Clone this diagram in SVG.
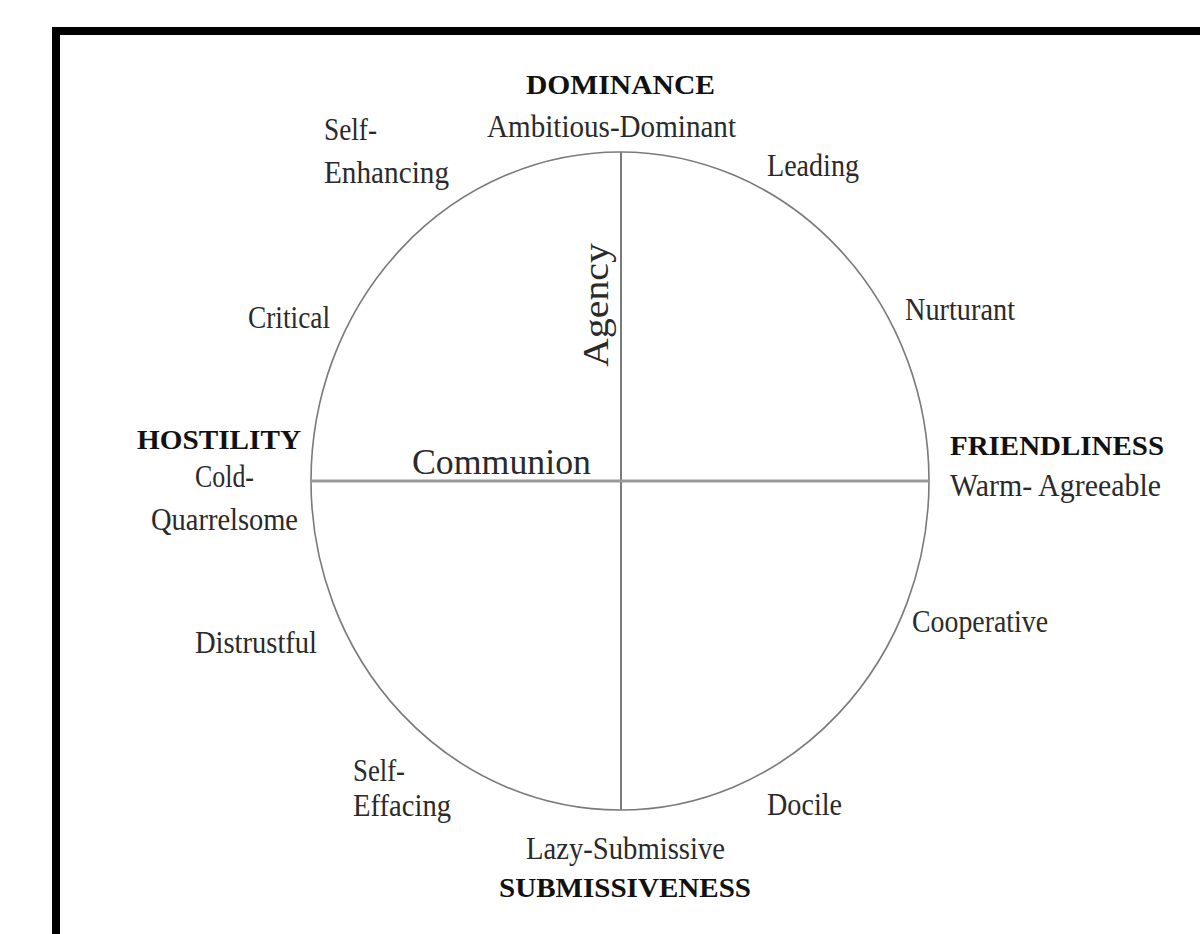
<svg xmlns="http://www.w3.org/2000/svg" width="1200" height="934" viewBox="0 0 1200 934">
  <style>
    .lbl { font-family: "Liberation Serif", "Times New Roman", serif; font-size: 32px; fill: #2a2a2a; }
    .pole { font-family: "Liberation Serif", "Times New Roman", serif; font-size: 28px; font-weight: bold; fill: #111; }
    .axis-name { font-family: "Liberation Serif", "Times New Roman", serif; font-size: 36px; fill: #2a2a2a; }
    .ring { fill: none; stroke: #7a7a7a; stroke-width: 1.6; }
    .axis { stroke: #7a7a7a; stroke-width: 2; }
    .axis-h { stroke: #999; stroke-width: 3; }
  </style>

  <!-- page and frame -->
  <rect x="0" y="0" width="1200" height="934" fill="#fff"/>
  <rect id="frame" x="56" y="31" width="1200" height="1000" fill="#fff" stroke="#000" stroke-width="8"/>

  <!-- interpersonal circle -->
  <g id="circumplex">
    <ellipse class="ring" cx="620" cy="481" rx="309" ry="329"/>
  </g>

  <!-- axes -->
  <g id="connectors">
    <line class="axis" x1="621" y1="152" x2="621" y2="810"/>
    <line class="axis-h" x1="311" y1="481" x2="929" y2="481"/>
  </g>

  <!-- axis names -->
  <g id="agency">
    <text class="axis-name" transform="translate(608,367) rotate(-90)" textLength="124" lengthAdjust="spacingAndGlyphs">Agency</text>
  </g>
  <g id="communion">
    <text class="axis-name" x="412" y="474" textLength="179" lengthAdjust="spacingAndGlyphs">Communion</text>
  </g>

  <!-- poles -->
  <g id="dominance">
    <text class="pole" x="526" y="94" textLength="189" lengthAdjust="spacingAndGlyphs">DOMINANCE</text>
    <text class="lbl" x="487" y="137" textLength="249" lengthAdjust="spacingAndGlyphs">Ambitious-Dominant</text>
  </g>
  <g id="hostility">
    <text class="pole" x="137" y="449" textLength="164" lengthAdjust="spacingAndGlyphs">HOSTILITY</text>
    <text class="lbl" x="195" y="487" textLength="59" lengthAdjust="spacingAndGlyphs">Cold-</text>
    <text class="lbl" x="151" y="530" textLength="147" lengthAdjust="spacingAndGlyphs">Quarrelsome</text>
  </g>
  <g id="friendliness">
    <text class="pole" x="950" y="455" textLength="214" lengthAdjust="spacingAndGlyphs">FRIENDLINESS</text>
    <text class="lbl" x="950" y="496" textLength="211" lengthAdjust="spacingAndGlyphs">Warm- Agreeable</text>
  </g>
  <g id="submissiveness">
    <text class="lbl" x="526" y="859" textLength="199" lengthAdjust="spacingAndGlyphs">Lazy-Submissive</text>
    <text class="pole" x="499" y="897" textLength="252" lengthAdjust="spacingAndGlyphs">SUBMISSIVENESS</text>
  </g>

  <!-- octant labels -->
  <g id="self-enhancing">
    <text class="lbl" x="324" y="140" textLength="53" lengthAdjust="spacingAndGlyphs">Self-</text>
    <text class="lbl" x="324" y="183" textLength="125" lengthAdjust="spacingAndGlyphs">Enhancing</text>
  </g>
  <g id="leading">
    <text class="lbl" x="767" y="176" textLength="92" lengthAdjust="spacingAndGlyphs">Leading</text>
  </g>
  <g id="critical">
    <text class="lbl" x="248" y="328" textLength="82" lengthAdjust="spacingAndGlyphs">Critical</text>
  </g>
  <g id="nurturant">
    <text class="lbl" x="905" y="320" textLength="110" lengthAdjust="spacingAndGlyphs">Nurturant</text>
  </g>
  <g id="distrustful">
    <text class="lbl" x="195" y="653" textLength="122" lengthAdjust="spacingAndGlyphs">Distrustful</text>
  </g>
  <g id="cooperative">
    <text class="lbl" x="912" y="632" textLength="136" lengthAdjust="spacingAndGlyphs">Cooperative</text>
  </g>
  <g id="self-effacing">
    <text class="lbl" x="353" y="781" textLength="52" lengthAdjust="spacingAndGlyphs">Self-</text>
    <text class="lbl" x="353" y="816" textLength="98" lengthAdjust="spacingAndGlyphs">Effacing</text>
  </g>
  <g id="docile">
    <text class="lbl" x="767" y="815" textLength="75" lengthAdjust="spacingAndGlyphs">Docile</text>
  </g>
</svg>
